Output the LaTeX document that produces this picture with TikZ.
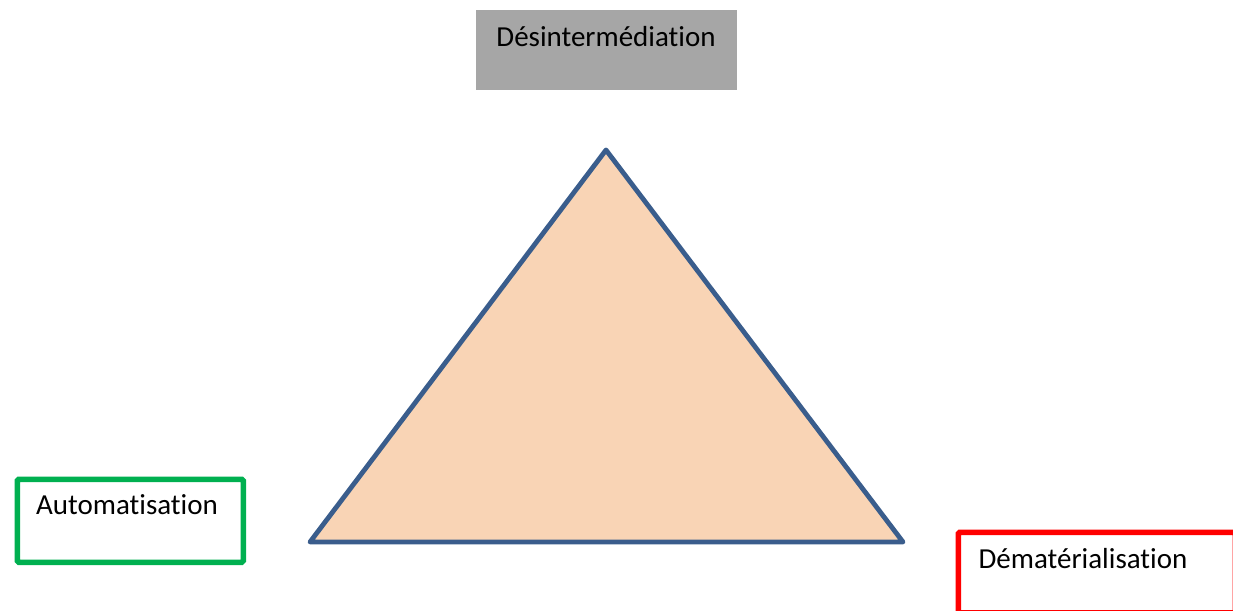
\documentclass[tikz,border=0pt]{standalone}
\usepackage{fontspec}
\setmainfont[Ligatures=NoCommon]{Carlito}
\definecolor{trifill}{HTML}{F9D4B5}
\definecolor{triline}{HTML}{3A5D8C}
\definecolor{boxgray}{HTML}{A6A6A6}
\definecolor{boxgreen}{HTML}{00B050}
\definecolor{boxred}{HTML}{FF0000}
\tikzset{
  lbl/.style={anchor=base, inner sep=0pt, font=\fontsize{29}{34}\selectfont, text=black},
  framebox/.style={draw=#1, line width=5.5pt, rounded corners=1.5pt, anchor=north west, inner sep=0pt, fill=white}
}
\begin{document}
\begin{tikzpicture}[x=1pt,y=-1pt]
\useasboundingbox (0,0) rectangle (1233,610);
\clip (0,0) rectangle (1233,610);
\coordinate (top) at (606,150);
\coordinate (left) at (310,542);
\coordinate (right) at (903,542);
\filldraw[fill=trifill, draw=triline, line width=4.8pt, line join=round] (top) -- (left) -- (right) -- cycle;
\node[fill=boxgray, anchor=north west, minimum width=261pt, minimum height=80pt, inner sep=0pt] (dbox) at (476,10) {};
\node[lbl] (dtxt) at (606,47) {Désintermédiation};
\node[framebox=boxgreen, minimum width=226pt, minimum height=83pt] (abox) at (14.5,476.5) {};
\node[lbl] (atxt) at (127,514) {Automatisation};
\node[framebox=boxred, minimum width=277pt, minimum height=80.5pt] (mbox) at (955.5,529.5) {};
\node[lbl] (mtxt) at (1083,568) {Dématérialisation};
\end{tikzpicture}
\end{document}
